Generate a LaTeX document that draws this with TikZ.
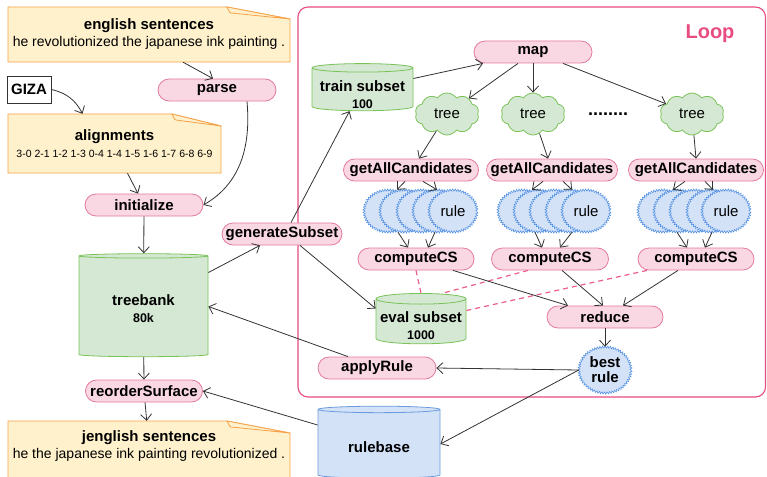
\documentclass[tikz,border=0pt]{standalone}
\usepackage{fontspec}
\setmainfont{Liberation Sans}
\usetikzlibrary{positioning,shapes.geometric,shapes.symbols,decorations.pathmorphing,arrows.meta}
\definecolor{pinkfill}{HTML}{F9D7E3}
\definecolor{pinkline}{HTML}{E57A9F}
\definecolor{loopline}{HTML}{E94B83}
\definecolor{greenfill}{HTML}{D5E8D4}
\definecolor{greenline}{HTML}{78C257}
\definecolor{bluefill}{HTML}{D4E2F7}
\definecolor{blueline}{HTML}{4A8BE3}
\definecolor{baseline}{HTML}{6A9BDD}
\definecolor{notefill}{HTML}{FFF1CC}
\definecolor{noteline}{HTML}{F7A248}
\definecolor{arrowc}{HTML}{333333}
\definecolor{dashc}{HTML}{EB5E8E}
\newcommand{\bigbf}{\fontsize{15}{17}\selectfont\bfseries}
\newcommand{\notepath}[5]{%
  \filldraw[notecard] (#1,#2) -- ({#3-#5},#2) -- (#3,{#2+12}) -- (#3,#4) -- (#1,#4) -- cycle;
  \filldraw[notecard] ({#3-#5},#2) .. controls ({#3-#5+3},{#2+6}) .. ({#3-#5+4},{#2+6}) -- (#3,{#2+12}) -- cycle;}
\newcommand{\drumtext}[3]{\raisebox{-#1}[\height][\depth]{\begin{tabular}{@{}c@{}}#2\\{\fontsize{12.5}{14}\selectfont #3}\end{tabular}}}
\tikzstyle{process} = [draw=pinkline, fill=pinkfill, line width=0.8pt, rounded corners=11pt, minimum height=22pt, inner sep=0pt, font=\bigbf]
\tikzstyle{store} = [cylinder, shape border rotate=90, draw=greenline, fill=greenfill, line width=0.8pt, inner sep=0pt, font=\bigbf]
\tikzstyle{treecloud} = [cloud, cloud puffs=10, cloud puff arc=110, draw=greenline, fill=greenfill, line width=0.8pt, minimum width=64pt, minimum height=42pt, inner sep=0pt, font=\fontsize{15}{17}\selectfont]
\tikzstyle{rulestar} = [ellipse, draw=blueline, fill=bluefill, line width=0.5pt, decorate, decoration={zigzag, segment length=2.6pt, amplitude=1.1pt}, minimum width=48pt, minimum height=42pt, inner sep=0pt, font=\fontsize{15}{17}\selectfont]
\tikzstyle{notecard} = [draw=noteline, fill=notefill, line width=0.8pt]
\tikzstyle{notetext} = [inner sep=0pt, align=center, font=\bigbf]
\tikzstyle{flow} = [draw=arrowc, line width=0.8pt, -{Straight Barb[length=6pt,width=11pt]}]
\tikzstyle{evallink} = [draw=dashc, line width=1.2pt, dash pattern=on 5pt off 4pt]

\begin{document}
\begin{tikzpicture}[x=1pt, y=-1pt]
	\clip (0,0) rectangle (767,476);
	\fill[white] (0,0) rectangle (767,476);
	\draw[loopline, line width=1.1pt, rounded corners=10pt] (298,7) rectangle (765.5,397);
	\node[text=loopline, font=\fontsize{20}{22}\selectfont\bfseries] (looptitle) at (710,34) {Loop};

	\notepath{8}{7}{290}{62}{63}
	\node[notetext, minimum width=282pt, minimum height=55pt] (eng) at (149,34.5) {english sentences\\{\mdseries\fontsize{14}{16}\selectfont he revolutionized the japanese ink painting .}};
	\notepath{8}{114}{221}{173}{49}
	\node[notetext, minimum width=213pt, minimum height=59pt] (align) at (114.5,143.5) {alignments\\{\mdseries\fontsize{10.5}{12}\selectfont 3-0 2-1 1-2 1-3 0-4 1-4 1-5 1-6 1-7 6-8 6-9}};
	\notepath{8}{421}{290}{490}{63}
	\node[notetext, minimum width=282pt, minimum height=50pt] (jeng) at (149,446) {jenglish sentences\\{\mdseries\fontsize{14}{16}\selectfont he the japanese ink painting revolutionized .}};

	\node[draw=arrowc, fill=white, line width=0.8pt, minimum width=44pt, minimum height=27pt, inner sep=0pt, font=\bigbf] (giza) at (29,89.5) {GIZA};
	\node[process, minimum width=118pt] (parse) at (217,90) {parse};
	\node[process, minimum width=118pt] (init) at (144,205) {initialize};
	\node[process, minimum width=120pt] (gen) at (282,234) {generateSubset};
	\node[process, minimum width=117pt] (reorder) at (144,391) {reorderSurface};
	\node[store, minimum width=129pt, minimum height=103pt, aspect=0.07] (tb) at (143.5,306.5) {\drumtext{4.5pt}{treebank}{80k}};
	\node[store, draw=baseline, fill=bluefill, minimum width=122pt, minimum height=72pt, aspect=0.105] (rb) at (379,444) {\raisebox{-3pt}[\height][\depth]{rulebase}};

	\node[process, minimum width=118pt] (map) at (533,52) {map};
	\node[store, minimum width=101pt, minimum height=45pt, aspect=0.1] (train) at (362.5,89.5) {\drumtext{7pt}{train subset}{100}};
	\node[treecloud] (t1) at (447,114) {tree};
	\node[treecloud] (t2) at (533,114) {tree};
	\node[treecloud] (t3) at (692,114) {tree};
	\node[font=\fontsize{18}{20}\selectfont\bfseries] (dots) at (608,114) {........};
	\node[process, minimum width=135pt] (gac1) at (411,170) {getAllCandidates};
	\node[process, minimum width=131pt] (gac2) at (552,170) {getAllCandidates};
	\node[process, minimum width=135pt] (gac3) at (696,170) {getAllCandidates};

	\node[rulestar] (r11) at (388,211) {};
	\node[rulestar] (r12) at (404,211) {};
	\node[rulestar] (r13) at (421,211) {};
	\node[rulestar] (r14) at (437,211) {};
	\node[rulestar] (r15) at (453,211) {rule};
	\node[rulestar] (r21) at (522,211) {};
	\node[rulestar] (r22) at (538,211) {};
	\node[rulestar] (r23) at (554,211) {};
	\node[rulestar] (r24) at (570,211) {};
	\node[rulestar] (r25) at (586,211) {rule};
	\node[rulestar] (r31) at (662,211) {};
	\node[rulestar] (r32) at (678,211) {};
	\node[rulestar] (r33) at (694,211) {};
	\node[rulestar] (r34) at (711,211) {};
	\node[rulestar] (r35) at (726,211) {rule};

	\node[process, minimum width=116pt] (cs1) at (416,259) {computeCS};
	\node[process, minimum width=117pt] (cs2) at (550,259) {computeCS};
	\node[process, minimum width=116pt] (cs3) at (696,259) {computeCS};
	\node[store, minimum width=90pt, minimum height=47pt, aspect=0.13] (eval) at (421,321.5) {\drumtext{6.5pt}{eval subset}{1000}};
	\node[process, minimum width=116pt] (reduce) at (605,317) {reduce};
	\node[rulestar, minimum width=52pt, minimum height=46pt, align=center, font=\fontsize{15}{15}\selectfont\bfseries] (best) at (605,370) {best\\rule};
	\node[process, minimum width=118pt] (apply) at (377,368) {applyRule};

	\draw[flow] ([xshift=34pt]eng.south) -- ([xshift=-4pt]parse.north);
	\draw[flow] (giza.east) to[bend left=25] ([xshift=-32pt]align.north);
	\draw[flow] ([xshift=30pt]parse.south) to[out=-85, in=30] (init.east);
	\draw[flow] ([xshift=13pt]align.south) -- ([xshift=-6pt]init.north);
	\draw[flow] (init) -- (tb);
	\draw[flow] ([yshift=34pt]tb.east) -- ([xshift=-22pt]gen.south);
	\draw[flow] ([xshift=9pt]gen.north) -- ([xshift=-13pt]train.south);
	\draw[flow] ([xshift=18pt]gen.south) -- ([yshift=13pt]eval.west);
	\draw[flow] (tb) -- (reorder);
	\draw[flow] (reorder) -- (jeng);
	\draw[flow] ([yshift=11pt]train.east) -- ([xshift=-50pt]map.south);
	\draw[flow] ([xshift=-15pt]map.south) -- (t1);
	\draw[flow] (map) -- (t2);
	\draw[flow] ([xshift=30pt]map.south) -- (t3);
	\draw[flow] (t1) -- ([xshift=8pt]gac1.north);
	\draw[flow] (t2) -- ([xshift=-4pt]gac2.north);
	\draw[flow] (t3) -- (gac3.north);
	\draw[flow] ([xshift=-6pt]gac1.south) -- ([xshift=-7pt]r12.north);
	\draw[flow] ([xshift=12pt]gac1.south) -- (r14.north);
	\draw[flow] ([xshift=-9pt]gac2.south) -- ([xshift=-6pt]r22.north);
	\draw[flow] ([xshift=11pt]gac2.south) -- ([xshift=2pt]r24.north);
	\draw[flow] ([xshift=-11pt]gac3.south) -- ([xshift=-5pt]r32.north);
	\draw[flow] ([xshift=9pt]gac3.south) -- ([xshift=2pt]r34.north);
	\draw[flow] ([xshift=-6pt]r12.south) -- ([xshift=-8pt]cs1.north);
	\draw[flow] ([xshift=-2pt]r14.south) -- ([xshift=12pt]cs1.north);
	\draw[flow] ([xshift=-3pt]r22.south) -- ([xshift=-8pt]cs2.north);
	\draw[flow] ([xshift=2pt]r24.south) -- ([xshift=10pt]cs2.north);
	\draw[flow] ([xshift=-1pt]r32.south) -- ([xshift=-9pt]cs3.north);
	\draw[flow] ([xshift=1pt]r34.south) -- ([xshift=9pt]cs3.north);
	\draw[evallink] (cs1.south) -- (eval.north);
	\draw[evallink] ([xshift=-22pt]cs2.south) -- ([xshift=22pt]eval.north);
	\draw[evallink] ([xshift=-49pt]cs3.south) -- ([yshift=11pt]eval.east);
	\draw[flow] ([xshift=37pt]cs1.south) -- ([xshift=-37pt]reduce.north);
	\draw[flow] ([xshift=12pt]cs2.south) -- ([xshift=-2pt]reduce.north);
	\draw[flow] ([xshift=-18pt]cs3.south) -- ([xshift=18pt]reduce.north);
	\draw[flow] (reduce) -- (best);
	\draw[flow] (best.west) -- (apply.east);
	\draw[flow] (best.west) -- (rb.east);
	\draw[flow] ([xshift=-29pt]apply.north) -- (tb.east);
	\draw[flow] ([yshift=19pt]rb.west) -- (reorder.east);
\end{tikzpicture}
\end{document}
